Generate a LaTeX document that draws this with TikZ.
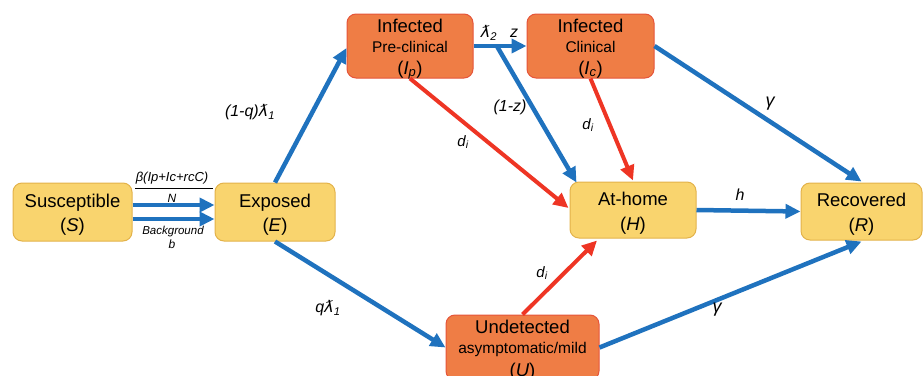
\documentclass[tikz,border=0pt]{standalone}
\usepackage{fontspec}
\setmainfont{Liberation Sans}
\newfontfamily\dvsfont{DejaVu Sans}
\usetikzlibrary{calc,arrows.meta}
\definecolor{ybox}{HTML}{F9D46E}
\definecolor{yedge}{HTML}{E3B24A}
\definecolor{obox}{HTML}{EF7D45}
\definecolor{oedge}{HTML}{E5553A}
\definecolor{barrow}{HTML}{1F72BE}
\definecolor{rarrow}{HTML}{EE3524}
\newcommand{\mylam}{{\dvsfont\itshape ƛ}}
\newcommand{\mysub}[1]{\textsubscript{\itshape #1}}
\begin{document}
\begin{tikzpicture}[x=1pt,y=-1pt,
  ybx/.style={draw=yedge, fill=ybox, rounded corners=9pt, line width=1pt, inner sep=0pt},
  obx/.style={draw=oedge, fill=obox, rounded corners=9pt, line width=1pt, inner sep=0pt},
  big/.style={font=\fontsize{18.5}{22}\selectfont, anchor=base, inner sep=0pt},
  small/.style={font=\fontsize{15.5}{18}\selectfont, anchor=base, inner sep=0pt},
  elab/.style={font=\fontsize{16}{19}\selectfont\itshape, inner sep=0pt},
  dlab/.style={font=\fontsize{15}{18}\selectfont\itshape, inner sep=0pt},
  glab/.style={font=\fontsize{18}{21}\selectfont\itshape, inner sep=0pt},
  blueflow/.style={draw=barrow, line width=4.5pt, -{Triangle[length=15pt,width=14pt]}},
  redflow/.style={draw=rarrow, line width=4pt, -{Triangle[length=15pt,width=14pt]}}
]
\useasboundingbox (0,0) rectangle (924,375);
\clip (0,0) rectangle (924,375);

% boxes
\node[ybx, minimum width=119pt, minimum height=58pt] (S) at (72.5,212) {};
\node[ybx, minimum width=120pt, minimum height=58pt] (E) at (275,212) {};
\node[obx, minimum width=126pt, minimum height=64pt] (Ip) at (410,46) {};
\node[obx, minimum width=127pt, minimum height=64pt] (Ic) at (590.5,46) {};
\node[ybx, minimum width=126pt, minimum height=56pt] (H) at (633,210) {};
\node[ybx, minimum width=121pt, minimum height=57pt] (R) at (861.5,211.5) {};
\node[obx, minimum width=153pt, minimum height=65pt] (U) at (522.5,347.5) {};

% box texts
\node[big] (St1) at (72.5,207) {Susceptible};
\node[big] (St2) at (72.5,231) {(\textit{S})};
\node[big] (Et1) at (275,207) {Exposed};
\node[big] (Et2) at (275,231) {(\textit{E})};
\node[big] (Ipt1) at (410,32) {Infected};
\node[small] (Ipt2) at (410,52) {Pre-clinical};
\node[big] (Ipt3) at (410,74) {(\textit{I}\mysub{p})};
\node[big] (Ict1) at (590.5,32) {Infected};
\node[small] (Ict2) at (590.5,52) {Clinical};
\node[big] (Ict3) at (590.5,74) {(\textit{I}\mysub{c})};
\node[big] (Ht1) at (633,205) {At-home};
\node[big] (Ht2) at (633,230) {(\textit{H})};
\node[big] (Rt1) at (861.5,206) {Recovered};
\node[big] (Rt2) at (861.5,231) {(\textit{R})};
\node[big] (Ut1) at (522.5,333) {Undetected};
\node[small] (Ut2) at (522.5,353) {asymptomatic/mild};
\node[big] (Ut3) at (522.5,376) {(\textit{U})};

% connectors
\draw[blueflow] ($(S.east)+(0,-7)$) -- ($(E.west)+(0,-7)$);
\draw[blueflow] ($(S.east)+(0,7)$) -- ($(E.west)+(0,7)$);
\draw[blueflow] (E.north) -- ($(Ip.west)+(0,2)$);
\draw[blueflow] (E.south) -- (U.west);
\draw[blueflow] (Ip.east) -- (Ic.west);
\coordinate (branch) at ($(Ip.east)!0.44!(Ic.west)$);
\draw[blueflow] (branch) -- ($(H.north west)+(7,1)$);
\draw[blueflow] (Ic.east) -- ($(R.north)+(0,-1)$);
\draw[blueflow] (H.east) -- (R.west);
\draw[blueflow] (U.east) -- ($(R.south)+(0,1)$);
\draw[redflow] (Ip.south) -- ($(H.west)+(-1,-2)$);
\draw[redflow] (Ic.south) -- ($(H.north)+(0,-1)$);
\draw[redflow] (U.north) -- ($(H.south)+(-36,2)$);

% S->E labels
\node[font=\fontsize{13}{15}\selectfont\itshape, inner sep=0pt] (beta) at (172,178) {β(Ip+Ic+rcC)};
\coordinate (fracL) at (135,188);
\coordinate (fracR) at (213,188);
\draw[line width=0.9pt] (fracL) -- (fracR);
\node[font=\fontsize{12}{14}\selectfont\itshape, inner sep=0pt] (Nlab) at (172,198) {N};
\node[font=\fontsize{11.5}{14}\selectfont\itshape, inner sep=0pt] (bg) at (173,232) {Background};
\node[font=\fontsize{12}{14}\selectfont\itshape, inner sep=0pt] (blab) at (172,244) {b};

% edge labels
\node[elab] (l1) at (250,112) {(1-q)\mylam\mysub{1}};
\node[elab] (l2) at (328,308) {q\mylam\mysub{1}};
\node[elab] (l3) at (489,33) {\mylam\mysub{2}};
\node[elab] (l4) at (514,33) {z};
\node[elab] (l5) at (510,107) {(1-z)};
\node[dlab] (d1) at (463,142) {d\mysub{i}};
\node[dlab] (d2) at (588,125) {d\mysub{i}};
\node[dlab] (d3) at (542,273) {d\mysub{i}};
\node[glab] (g1) at (770,104) {γ};
\node[glab] (g2) at (717,310) {γ};
\node[elab] (hlab) at (740,195) {h};
\end{tikzpicture}
\end{document}
